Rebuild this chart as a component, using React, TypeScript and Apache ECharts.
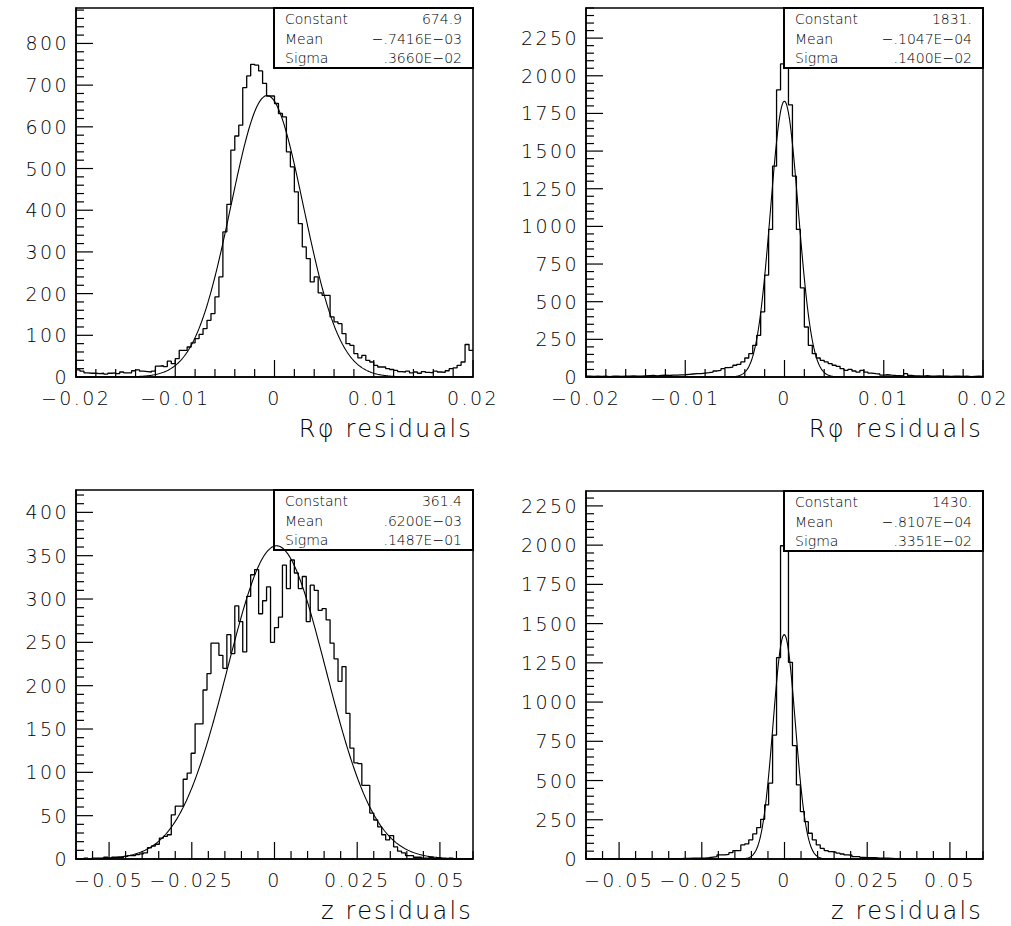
import { useEffect, useRef } from "react";
import * as echarts from "echarts";

// ---------------- data ----------------
const RPHI_LO = -0.02;
const RPHI_HI = 0.02;
const Z_LO = -0.06;
const Z_HI = 0.06;

// R-phi residuals, left detector (100 bins, -0.02 .. 0.02)
const rphiLeftCounts = [
  17, 14, 10, 9, 9, 8, 9, 7, 9, 10, 8, 12, 10, 10, 15, 17, 14, 13, 12,
  14, 26, 27, 25, 38, 32, 44,
  64, 64, 72, 82, 92, 102, 116, 136, 152, 192, 240, 348, 414,
  544, 578, 604, 694, 722, 750, 748, 734, 704, 674, 674, 656, 632, 624,
  540, 504, 444, 368, 312, 284, 228, 240, 202, 196, 196, 144, 132, 128,
  104, 80, 76, 56, 46, 52, 40, 36, 28, 24, 24, 20, 18, 16,
  13, 12, 14, 10, 12, 9, 13, 11, 10, 14, 12, 11, 15, 20, 22, 28, 36, 78, 64,
];

// R-phi residuals, right detector (100 bins, -0.02 .. 0.02)
const rphiRightCounts = [
  5, 4, 6, 4, 5, 3, 6, 5, 4, 6, 5, 7, 6, 5, 8,
  9, 10, 8, 11, 12, 10, 13, 12, 14, 15,
  18, 20, 22, 22, 26, 29, 33, 40, 44, 55, 62, 66, 78, 84,
  100, 126, 155, 210, 277, 432, 676, 980, 1400, 1906, 2079, 2065,
  1807, 1334, 980, 592, 332, 210, 155, 126, 111, 100, 89, 78, 71,
  55, 44, 51, 40, 33, 44, 33, 26, 22, 20, 13, 15, 12, 10, 9, 8,
  22, 10, 7, 8, 6, 9, 6, 5, 7, 6, 5, 4, 6, 5, 4, 5, 3, 4, 5, 4,
];

// z residuals, left detector (100 bins, -0.06 .. 0.06)
const zLeftCounts = [
  0, 0, 1, 0, 1, 1, 1, 2, 1, 2,
  2, 2, 3, 4, 4, 5, 6, 7,
  13, 15, 17, 24, 26, 28,
  51, 61, 61, 92, 99, 122, 156, 156, 195, 214, 249, 249,
  235, 220, 259, 237, 292, 274, 239, 303, 328, 334, 283, 298, 314,
  250, 267, 279, 339, 312, 345, 330, 312, 326, 274, 316, 310, 287, 289, 276,
  249, 231, 205, 222, 168, 128, 111, 110, 85, 85, 53, 45, 37, 28, 22, 27, 14, 9, 7, 4,
  4, 2, 2, 1, 1, 2, 0, 1, 0, 0, 1, 0, 0, 0, 0, 0,
];

// z residuals, right detector (100 bins, -0.06 .. 0.06)
const zRightCounts = [
  0, 0, 0, 0, 0, 0, 0, 1, 0, 0, 0, 1, 0, 1, 1, 1, 2, 2, 3, 3,
  2, 2, 3, 3, 4, 4, 5, 5, 6, 6, 8, 12, 15, 26, 26, 30, 40,
  54, 54, 90, 96, 122, 160, 200, 253, 345, 483, 790, 1283, 1996, 1996,
  1253, 722, 472, 302, 238, 164, 122, 90, 68, 54, 47, 43, 37, 32, 26, 24,
  15, 15, 10, 9, 9, 8, 6, 5, 5, 4, 3, 3, 2,
  2, 1, 1, 1, 0, 1, 0, 0, 1, 0, 0, 0, 0, 0, 0, 0, 0, 0, 0, 0,
];

// Gaussian fit parameters shown in the statistics boxes
const fitRphiLeft = { constant: 674.9, mean: -0.7416e-3, sigma: 0.366e-2 };
const fitRphiRight = { constant: 1831, mean: -0.1047e-4, sigma: 0.14e-2 };
const fitZLeft = { constant: 361.4, mean: 0.62e-3, sigma: 0.1487e-1 };
const fitZRight = { constant: 1430, mean: -0.8107e-4, sigma: 0.3351e-2 };

const statNames = ["Constant", "Mean", "Sigma"];
const statsRphiLeft = ["674.9", "\u2212.7416E\u221203", ".3660E\u221202"];
const statsRphiRight = ["1831.", "\u2212.1047E\u221204", ".1400E\u221202"];
const statsZLeft = ["361.4", ".6200E\u221203", ".1487E\u221201"];
const statsZRight = ["1430.", "\u2212.8107E\u221204", ".3351E\u221202"];

const rphiTickValues = [-0.02, -0.01, 0, 0.01, 0.02];
const zTickValues = [-0.05, -0.025, 0, 0.025, 0.05];

const rphiTitle = "R\u03c6 residuals";
const zTitle = "z residuals";

// ---------------- layout ----------------
const FONT = "'DejaVu Sans', Lato, sans-serif";
const TICK_FONT_SIZE = 19;
const TITLE_FONT_SIZE = 24;
const LIGHT = 200;

type Panel = {
  counts: number[];
  lo: number;
  hi: number;
  fit: { constant: number; mean: number; sigma: number };
  stats: string[];
  xMajor: number[];
  xMinorStep: number;
  yMax: number;
  yMajorStep: number;
  yMajorLast: number;
  yMinorStep: number;
  title: string;
  box: { left: number; top: number; width: number; height: number };
};

const panels: Panel[] = [
  {
    counts: rphiLeftCounts, lo: RPHI_LO, hi: RPHI_HI, fit: fitRphiLeft, stats: statsRphiLeft,
    xMajor: rphiTickValues, xMinorStep: 0.002, yMax: 885, yMajorStep: 100, yMajorLast: 800, yMinorStep: 20,
    title: rphiTitle, box: { left: 76, top: 8, width: 397, height: 369 },
  },
  {
    counts: rphiRightCounts, lo: RPHI_LO, hi: RPHI_HI, fit: fitRphiRight, stats: statsRphiRight,
    xMajor: rphiTickValues, xMinorStep: 0.002, yMax: 2450, yMajorStep: 250, yMajorLast: 2250, yMinorStep: 50,
    title: rphiTitle, box: { left: 586, top: 8, width: 397, height: 369 },
  },
  {
    counts: zLeftCounts, lo: Z_LO, hi: Z_HI, fit: fitZLeft, stats: statsZLeft,
    xMajor: zTickValues, xMinorStep: 0.005, yMax: 425.8, yMajorStep: 50, yMajorLast: 400, yMinorStep: 10,
    title: zTitle, box: { left: 76, top: 490, width: 397, height: 369 },
  },
  {
    counts: zRightCounts, lo: Z_LO, hi: Z_HI, fit: fitZRight, stats: statsZRight,
    xMajor: zTickValues, xMinorStep: 0.005, yMax: 2345, yMajorStep: 250, yMajorLast: 2250, yMinorStep: 50,
    title: zTitle, box: { left: 586, top: 491, width: 397, height: 368 },
  },
];

function steps(from: number, to: number, step: number): number[] {
  const out: number[] = [];
  const n = Math.round((to - from) / step);
  for (let i = 0; i <= n; i++) out.push(Number((from + i * step).toFixed(6)));
  return out;
}

function fmtX(v: number): string {
  if (Math.abs(v) < 1e-9) return "0";
  const s = Number(Math.abs(v).toFixed(4)).toString();
  return (v < 0 ? "\u2212" : "") + s;
}

const MAJOR_LEN = 17;
const MINOR_LEN = 8;

function buildOption() {
  const grid: any[] = [];
  const xAxis: any[] = [];
  const yAxis: any[] = [];
  const series: any[] = [];
  const graphic: any[] = [];

  panels.forEach((p, i) => {
    const b = p.box;
    grid.push({
      left: b.left, top: b.top, width: b.width, height: b.height,
      show: true, borderColor: "#000", borderWidth: 1.5, backgroundColor: "transparent",
    });
    xAxis.push({
      type: "value", gridIndex: i, min: p.lo, max: p.hi, position: "bottom",
      axisLine: { show: true, onZero: false, lineStyle: { color: "#000", width: 1.5 } },
      axisTick: { show: false },
      axisLabel: {
        show: true, customValues: p.xMajor, formatter: (v: number) => fmtX(v),
        color: "#000", fontFamily: FONT, fontWeight: LIGHT, fontSize: TICK_FONT_SIZE, margin: 11,
      },
      splitLine: { show: false },
    });
    const yMajors = steps(0, p.yMajorLast, p.yMajorStep);
    const yMinors = steps(0, Math.floor(p.yMax / p.yMinorStep) * p.yMinorStep, p.yMinorStep);
    yAxis.push({
      type: "value", gridIndex: i, min: 0, max: p.yMax, position: "left",
      axisLine: { show: true, onZero: false, lineStyle: { color: "#000", width: 1.5 } },
      axisTick: { show: false },
      axisLabel: {
        show: true, customValues: yMajors, formatter: (v: number) => String(v),
        color: "#000", fontFamily: FONT, fontWeight: LIGHT, fontSize: TICK_FONT_SIZE, margin: 7,
      },
      splitLine: { show: false },
    });

    // tick marks drawn inside the frame through the axes' own scales
    const xMinors = steps(p.lo, p.hi, p.xMinorStep);
    const tickData: number[][] = [];
    xMinors.forEach((v) => {
      const major = p.xMajor.some((m) => Math.abs(m - v) < 1e-9);
      tickData.push([v, 0, major ? MAJOR_LEN : MINOR_LEN, 0]);
    });
    p.xMajor.forEach((m) => {
      if (!xMinors.some((v) => Math.abs(m - v) < 1e-9)) tickData.push([m, 0, MAJOR_LEN, 0]);
    });
    yMinors.forEach((v) => {
      const major = yMajors.some((m) => Math.abs(m - v) < 1e-9);
      tickData.push([p.lo, v, major ? MAJOR_LEN : MINOR_LEN, 1]);
    });
    series.push({
      type: "custom", xAxisIndex: i, yAxisIndex: i, data: tickData, silent: true, z: 3,
      clip: false,
      renderItem: (_params: any, api: any) => {
        const pt = api.coord([api.value(0), api.value(1)]);
        const len = api.value(2);
        const dir = api.value(3);
        const x2 = dir === 1 ? pt[0] + len : pt[0];
        const y2 = dir === 1 ? pt[1] : pt[1] - len;
        return {
          type: "line",
          shape: { x1: pt[0], y1: pt[1], x2, y2 },
          style: { stroke: "#000", lineWidth: 1.2 },
        };
      },
    });

    // histogram as a step outline
    const w = (p.hi - p.lo) / p.counts.length;
    const hist: number[][] = p.counts.map((c, k) => [p.lo + k * w, c]);
    hist.push([p.hi, p.counts[p.counts.length - 1]]);
    series.push({
      type: "line", xAxisIndex: i, yAxisIndex: i, data: hist, step: "end",
      symbol: "none", lineStyle: { color: "#000", width: 1.3 }, z: 2, silent: true,
    });

    // gaussian fit curve from the box parameters
    const fitPts: number[][] = [];
    const N = 500;
    for (let k = 0; k <= N; k++) {
      const x = p.lo + ((p.hi - p.lo) * k) / N;
      const t = (x - p.fit.mean) / p.fit.sigma;
      fitPts.push([x, p.fit.constant * Math.exp(-0.5 * t * t)]);
    }
    series.push({
      type: "line", xAxisIndex: i, yAxisIndex: i, data: fitPts, smooth: false,
      symbol: "none", lineStyle: { color: "#000", width: 1.1 }, z: 20, silent: true,
    });

    // statistics box
    const bw = 199;
    const bh = 60;
    const bx = b.left + b.width - bw;
    const by = b.top;
    graphic.push({
      type: "rect", z: 10, silent: true,
      shape: { x: bx, y: by, width: bw, height: bh },
      style: { fill: "#fff", stroke: "#000", lineWidth: 2 },
    });
    statNames.forEach((nm, r) => {
      const cy = by + 11 + r * 19.5;
      graphic.push({
        type: "text", z: 11, silent: true, x: bx + 11, y: cy,
        style: { text: nm, fill: "#000", font: `${LIGHT} 14px ${FONT}`, textAlign: "left", textVerticalAlign: "middle" },
      });
      graphic.push({
        type: "text", z: 11, silent: true, x: bx + bw - 11, y: cy,
        style: { text: p.stats[r], fill: "#000", font: `${LIGHT} 14px ${FONT}`, textAlign: "right", textVerticalAlign: "middle" },
      });
    });

    // axis title
    graphic.push({
      type: "text", z: 11, silent: true, x: b.left + b.width, y: b.top + b.height + 52,
      style: {
        text: p.title, fill: "#000", font: `${LIGHT} ${TITLE_FONT_SIZE}px ${FONT}`,
        textAlign: "right", textVerticalAlign: "middle",
      },
    });
  });

  return {
    animation: false,
    backgroundColor: "#fff",
    grid, xAxis, yAxis, series, graphic,
  };
}

export default function App() {
  const ref = useRef<HTMLDivElement>(null);
  useEffect(() => {
    document.body.style.margin = "0";
    if (!ref.current) return;
    const chart = echarts.init(ref.current, undefined, { renderer: "svg" });
    chart.setOption(buildOption() as any);
    return () => chart.dispose();
  }, []);
  return (
    <>
      <style>{`svg text[style*="${TICK_FONT_SIZE}px"]{letter-spacing:2.4px}svg text[style*="${TITLE_FONT_SIZE}px"]{letter-spacing:2.2px}`}</style>
      <div ref={ref} style={{ width: 1011, height: 926 }} />
    </>
  );
}
